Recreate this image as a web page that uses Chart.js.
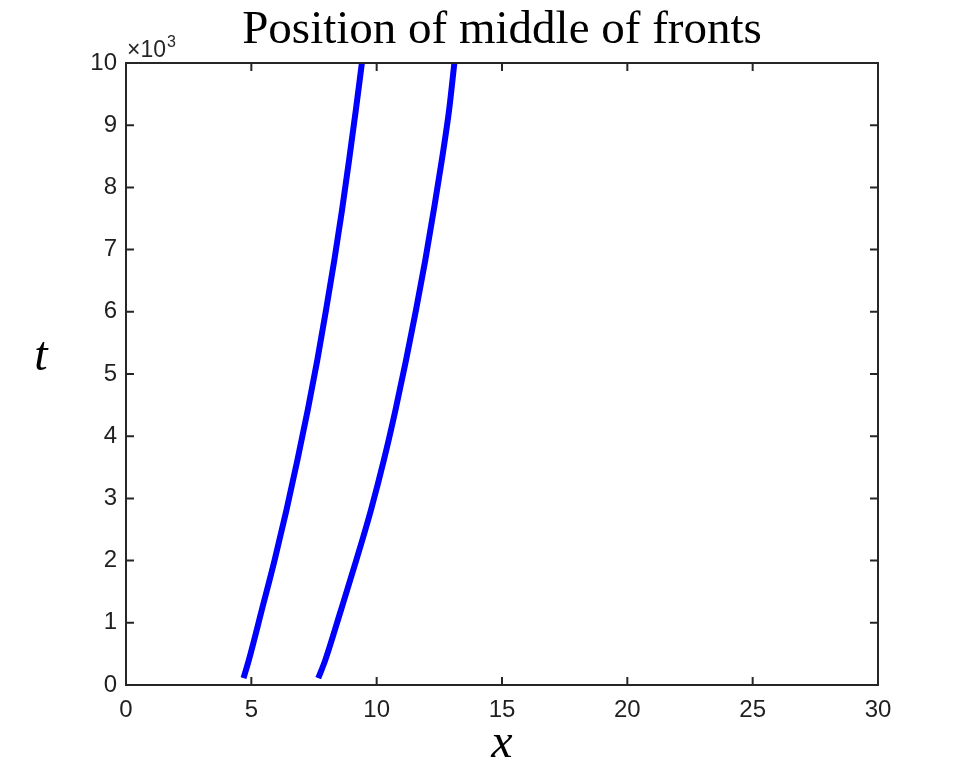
<!DOCTYPE html>
<html>
<head>
<meta charset="utf-8">
<script src="https://cdn.jsdelivr.net/npm/chart.js@4.4.0/dist/chart.umd.min.js"></script>
<style>
  html, body { margin: 0; padding: 0; background: #fff; }
  #wrap { width: 970px; height: 776px; position: relative; }
</style>
</head>
<body>
<div id="wrap"><canvas id="frontChart" width="970" height="776"></canvas></div>
<script>
// t values shared by both fronts
const tValues = [110, 400, 1210, 2010, 2810, 3620, 4420, 5220, 6030, 6830, 7640, 8440, 9245, 10000];
const front1X = [4.69, 4.90, 5.42, 5.93, 6.40, 6.84, 7.25, 7.63, 7.98, 8.31, 8.62, 8.90, 9.17, 9.41];
const front2X = [7.67, 7.95, 8.58, 9.19, 9.77, 10.29, 10.75, 11.17, 11.57, 11.94, 12.28, 12.60, 12.89, 13.10];
const xTicks = [0, 5, 10, 15, 20, 25, 30];
const yTicks = [0, 1, 2, 3, 4, 5, 6, 7, 8, 9, 10];

const INK = '#262626';
const toPoints = xs => xs.map((x, i) => ({ x, y: tValues[i] }));

// frame, inward ticks on all four sides, title, axis labels, exponent
const matlabAxes = {
  id: 'matlabAxes',
  afterDatasetsDraw(chart) {
    const { ctx, chartArea: a, scales } = chart;
    const sx = scales.x, sy = scales.y;
    ctx.save();
    ctx.strokeStyle = INK; ctx.lineWidth = 2;
    ctx.strokeRect(a.left, a.top, a.right - a.left, a.bottom - a.top);
    ctx.beginPath();
    xTicks.forEach(v => {
      const px = sx.getPixelForValue(v);
      ctx.moveTo(px, a.bottom); ctx.lineTo(px, a.bottom - 8);
      ctx.moveTo(px, a.top); ctx.lineTo(px, a.top + 8);
    });
    yTicks.forEach(v => {
      const py = sy.getPixelForValue(v * 1000);
      ctx.moveTo(a.left, py); ctx.lineTo(a.left + 8, py);
      ctx.moveTo(a.right, py); ctx.lineTo(a.right - 8, py);
    });
    ctx.stroke();

    ctx.fillStyle = '#000';
    ctx.textAlign = 'center'; ctx.textBaseline = 'alphabetic';
    ctx.font = '47px "Liberation Serif", serif';
    ctx.fillText('Position of middle of fronts', (a.left + a.right) / 2, 43);
    ctx.font = 'italic 48px "Liberation Serif", serif';
    ctx.fillText('x', (a.left + a.right) / 2, 757);
    ctx.fillText('t', 41, 370);

    ctx.fillStyle = INK; ctx.textAlign = 'left';
    ctx.font = '23px "Liberation Sans", Arial, sans-serif';
    ctx.fillText('\u00d710', a.left + 1, 57);
    const w = ctx.measureText('\u00d710').width;
    ctx.font = '16px "Liberation Sans", Arial, sans-serif';
    ctx.fillText('3', a.left + 2 + w, 47);
    ctx.restore();
  }
};

new Chart(document.getElementById('frontChart').getContext('2d'), {
  type: 'scatter',
  data: {
    datasets: [
      { label: 'front 1', data: toPoints(front1X) },
      { label: 'front 2', data: toPoints(front2X) }
    ].map(d => Object.assign(d, {
      showLine: true, borderColor: '#0000ff', borderWidth: 6, borderCapStyle: 'butt',
      pointRadius: 0, cubicInterpolationMode: 'monotone', fill: false
    }))
  },
  options: {
    responsive: false, animation: false,
    layout: { padding: { top: 63, right: 92, left: 0, bottom: 0 } },
    plugins: { legend: { display: false }, tooltip: { enabled: false } },
    scales: {
      x: {
        type: 'linear', min: 0, max: 30,
        afterBuildTicks: s => { s.ticks = xTicks.map(v => ({ value: v })); },
        afterFit: s => { s.height = 91; },
        grid: { display: false, drawTicks: false }, border: { display: false },
        ticks: { color: '#1f1f1f', padding: 11, font: { family: '"Liberation Sans", Arial, sans-serif', size: 24 } }
      },
      y: {
        type: 'linear', min: 0, max: 10000,
        afterBuildTicks: s => { s.ticks = yTicks.map(v => ({ value: v * 1000 })); },
        afterFit: s => { s.width = 126; },
        grid: { display: false, drawTicks: false }, border: { display: false },
        ticks: { color: '#1f1f1f', padding: 9, font: { family: '"Liberation Sans", Arial, sans-serif', size: 24 },
                 callback: v => String(v / 1000) }
      }
    }
  },
  plugins: [matlabAxes]
});
</script>
</body>
</html>
